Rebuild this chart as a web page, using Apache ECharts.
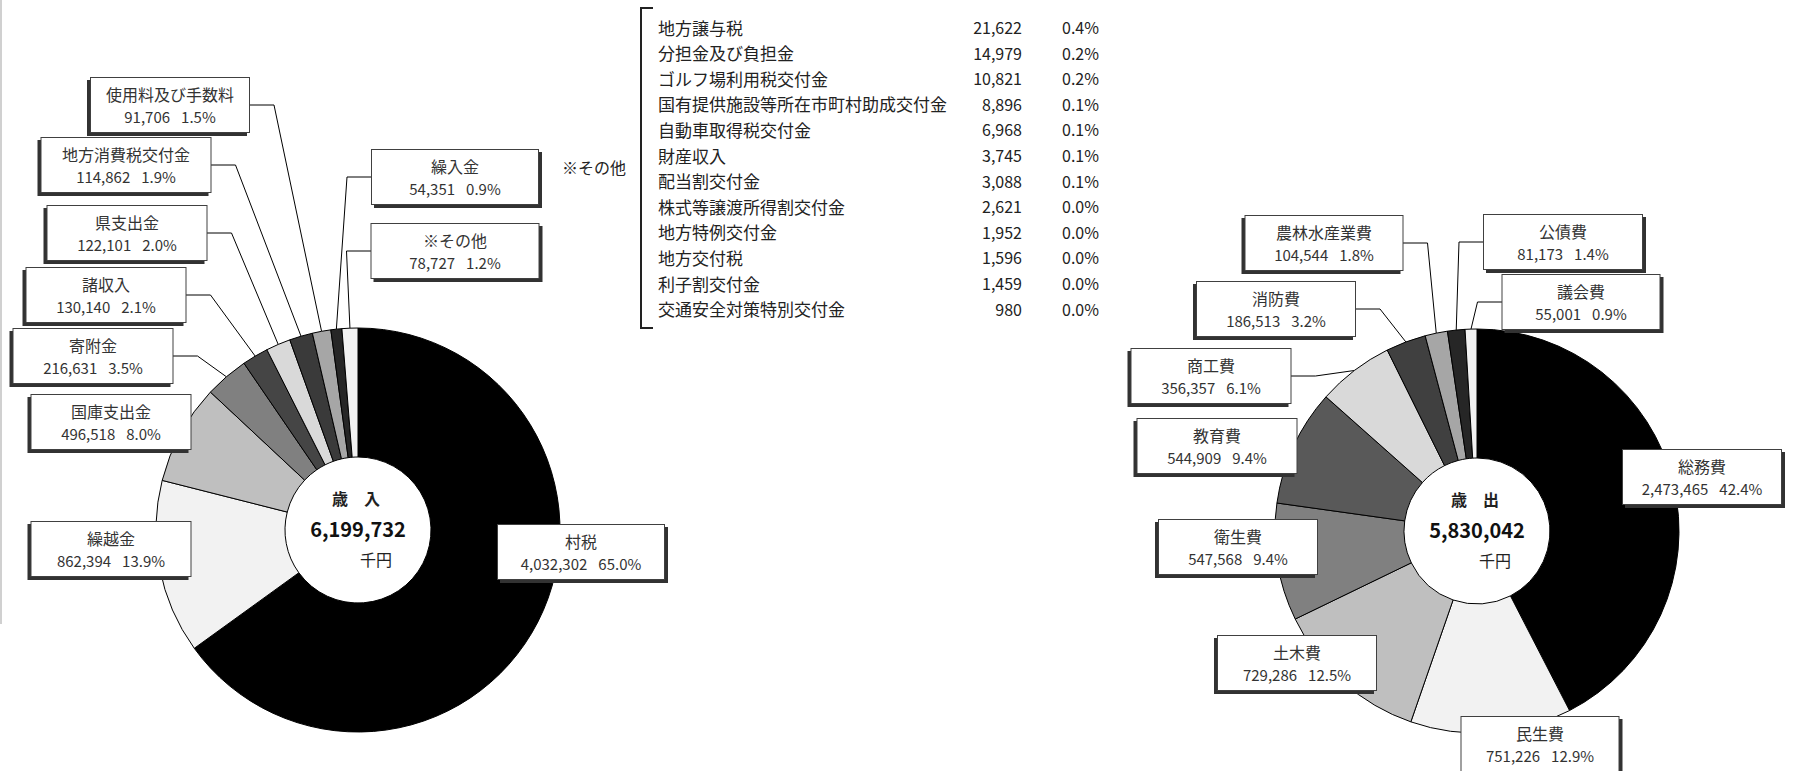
<!DOCTYPE html>
<html>
<head>
<meta charset="utf-8">
<script src="https://cdn.jsdelivr.net/npm/echarts@6/dist/echarts.min.js"></script>
<style>
html,body{margin:0;padding:0;background:#fff;}
#c{width:1795px;height:771px;}
</style>
</head>
<body>
<div id="c"></div>
<script>
// ---- Data ----
const incomeNames = ['村税','繰越金','国庫支出金','寄附金','諸収入','県支出金','地方消費税交付金','使用料及び手数料','繰入金','※その他'];
const incomeValues = [4032302, 862394, 496518, 216631, 130140, 122101, 114862, 91706, 54351, 78727];
const incomePcts = ['65.0%','13.9%','8.0%','3.5%','2.1%','2.0%','1.9%','1.5%','0.9%','1.2%'];

const expenseNames = ['総務費','民生費','土木費','衛生費','教育費','商工費','消防費','農林水産業費','公債費','議会費'];
const expenseValues = [2473465, 751226, 729286, 547568, 544909, 356357, 186513, 104544, 81173, 55001];
const expensePcts = ['42.4%','12.9%','12.5%','9.4%','9.4%','6.1%','3.2%','1.8%','1.4%','0.9%'];

const otherNames = ['地方譲与税','分担金及び負担金','ゴルフ場利用税交付金','国有提供施設等所在市町村助成交付金','自動車取得税交付金','財産収入','配当割交付金','株式等譲渡所得割交付金','地方特例交付金','地方交付税','利子割交付金','交通安全対策特別交付金'];
const otherValues = [21622, 14979, 10821, 8896, 6968, 3745, 3088, 2621, 1952, 1596, 1459, 980];
const otherPcts = ['0.4%','0.2%','0.2%','0.1%','0.1%','0.1%','0.1%','0.0%','0.0%','0.0%','0.0%','0.0%'];

const incomeTitle = '歳　入';
const expenseTitle = '歳　出';
const unitText = '千円';
const otherTitle = '※その他';

// ---- Styles / layout (kept apart from data) ----
const incomeColors = ['#000000','#f2f2f2','#bfbfbf','#808080','#454545','#d9d9d9','#3a3a3a','#a6a6a6','#262626','#f2f2f2'];
const expenseColors = ['#000000','#f2f2f2','#bfbfbf','#808080','#595959','#d9d9d9','#404040','#a6a6a6','#262626','#f2f2f2'];
// label box: [centerX, centerY, width, shadowSide, hasLine]
const incomeLabelBoxes = [
  [581,552,166,'R',false],[111,549,159,'L',false],[111,422,159,'L',false],[93,356,159,'L',true],
  [106,295,159,'L',true],[127,233,159,'L',true],[126,165,169,'L',true],[170,105,158,'L',true],
  [455,177,166,'R',true],[455,251,167,'R',true]
];
const expenseLabelBoxes = [
  [1702,477,158,'R',false],[1540,744,157,'R',false],[1297,663,158,'L',false],[1238,547,158,'L',false],
  [1217,446,159,'L',false],[1211,376,159,'L',true],[1276,309,158,'L',true],[1324,243,157,'L',true],
  [1563,242,158,'R',true],[1581,302,157,'R',true]
];
const incomeCenter = [358, 530];
const expenseCenter = [1477, 531];
const pieRadius = [73, 202];
const FONT = "'Noto Sans CJK JP','Noto Sans',sans-serif";

const chart = echarts.init(document.getElementById('c'), null, {renderer: 'svg'});

function fmt(v){ return v.toLocaleString('en-US'); }

function buildData(names, values, pcts, colors, boxes){
  return names.map((n,i)=>({
    name: n,
    value: values[i],
    itemStyle: {color: colors[i]},
    label: {
      width: boxes[i][2],
      shadowOffsetX: boxes[i][3]==='L' ? -3 : 3,
      formatter: '{n|' + n + '}\n{v|' + fmt(values[i]) + '}{p|' + pcts[i] + '}'
    },
    labelLine: {show: boxes[i][4]}
  }));
}

function makeLayout(boxes, centerConst){
  return function(p){
    const b = boxes[p.dataIndex];
    const res = {x: b[0], y: b[1], align: 'center', verticalAlign: 'middle'};
    if (b[4]) {
      let cx, cy, r, mid;
      try {
        const lay = chart.getModel().getSeriesByIndex(p.seriesIndex).getData().getItemLayout(p.dataIndex);
        cx = lay.cx; cy = lay.cy; r = lay.r; mid = (lay.startAngle + lay.endAngle)/2;
      } catch(e) { cx = centerConst[0]; cy = centerConst[1]; r = pieRadius[1]; mid = -Math.PI/2; }
      const ax = cx + r*Math.cos(mid), ay = cy + r*Math.sin(mid);
      const edgeX = b[3]==='L' ? b[0] + b[2]/2 : b[0] - b[2]/2;
      const elbowX = b[3]==='L' ? edgeX + 25 : edgeX - 25;
      res.labelLinePoints = [[ax, ay], [elbowX, b[1]], [edgeX, b[1]]];
    }
    return res;
  };
}

const labelCommon = {
  show: true,
  position: 'outside',
  backgroundColor: '#ffffff',
  borderColor: '#404040',
  borderWidth: 1,
  shadowColor: '#333333',
  shadowBlur: 0,
  shadowOffsetY: 3,
  padding: [5, 0, 5, 0],
  color: '#333',
  fontFamily: FONT,
  rich: {
    n: {fontSize: 16, lineHeight: 22, color: '#333', fontFamily: FONT, align: 'center'},
    v: {fontSize: 15, lineHeight: 22, color: '#333', fontFamily: FONT, align: 'center'},
    p: {fontSize: 15, lineHeight: 22, color: '#333', fontFamily: FONT, align: 'center', padding: [0, 0, 0, 11]}
  }
};

function pieSeries(data, center, boxes){
  return {
    type: 'pie',
    center: center,
    radius: pieRadius,
    startAngle: 90,
    clockwise: true,
    avoidLabelOverlap: false,
    silent: true,
    animation: false,
    itemStyle: {borderColor: '#000', borderWidth: 1},
    label: labelCommon,
    labelLine: {show: true, lineStyle: {color: '#000', width: 1}},
    labelLayout: makeLayout(boxes, center),
    emphasis: {disabled: true},
    data: data
  };
}

const incomeTotal = incomeValues.reduce((a,b)=>a+b,0);
const expenseTotal = expenseValues.reduce((a,b)=>a+b,0);

function centerTexts(c, title, total){
  return [
    {type:'text', x: c[0]-2, y: c[1]-32, silent:true, style:{text: title, fill:'#222', font:'bold 16px ' + FONT, align:'center', verticalAlign:'middle'}},
    {type:'text', x: c[0], y: c[1]-2, silent:true, style:{text: fmt(total), fill:'#111', font:'bold 20px ' + FONT, align:'center', verticalAlign:'middle'}},
    {type:'text', x: c[0]+18, y: c[1]+29, silent:true, style:{text: unitText, fill:'#222', font:'16px ' + FONT, align:'center', verticalAlign:'middle'}}
  ];
}

const tableEls = [];
const rowY0 = 27, rowDY = 25.6;
otherNames.forEach((n,i)=>{
  const y = rowY0 + i*rowDY;
  tableEls.push({type:'text', x: 658, y: y, silent:true, style:{text:n, fill:'#222', font:'17px ' + FONT, align:'left', verticalAlign:'middle'}});
  tableEls.push({type:'text', x: 1022, y: y, silent:true, style:{text:fmt(otherValues[i]), fill:'#222', font:'16px ' + FONT, align:'right', verticalAlign:'middle'}});
  tableEls.push({type:'text', x: 1099, y: y, silent:true, style:{text:otherPcts[i], fill:'#222', font:'16px ' + FONT, align:'right', verticalAlign:'middle'}});
});
tableEls.push({type:'polyline', silent:true, shape:{points:[[653,8],[641,8],[641,328],[653,328]]}, style:{stroke:'#222', lineWidth:2, fill:null}});
tableEls.push({type:'text', x: 562, y: 167, silent:true, style:{text: otherTitle, fill:'#222', font:'16px ' + FONT, align:'left', verticalAlign:'middle'}});
tableEls.push({type:'line', silent:true, shape:{x1:1, y1:0, x2:1, y2:624}, style:{stroke:'#d0d0d0', lineWidth:2}});

chart.setOption({
  backgroundColor: '#ffffff',
  animation: false,
  series: [
    pieSeries(buildData(incomeNames, incomeValues, incomePcts, incomeColors, incomeLabelBoxes), incomeCenter, incomeLabelBoxes),
    pieSeries(buildData(expenseNames, expenseValues, expensePcts, expenseColors, expenseLabelBoxes), expenseCenter, expenseLabelBoxes)
  ],
  graphic: [].concat(centerTexts(incomeCenter, incomeTitle, incomeTotal), centerTexts(expenseCenter, expenseTitle, expenseTotal), tableEls)
});
</script>
</body>
</html>
